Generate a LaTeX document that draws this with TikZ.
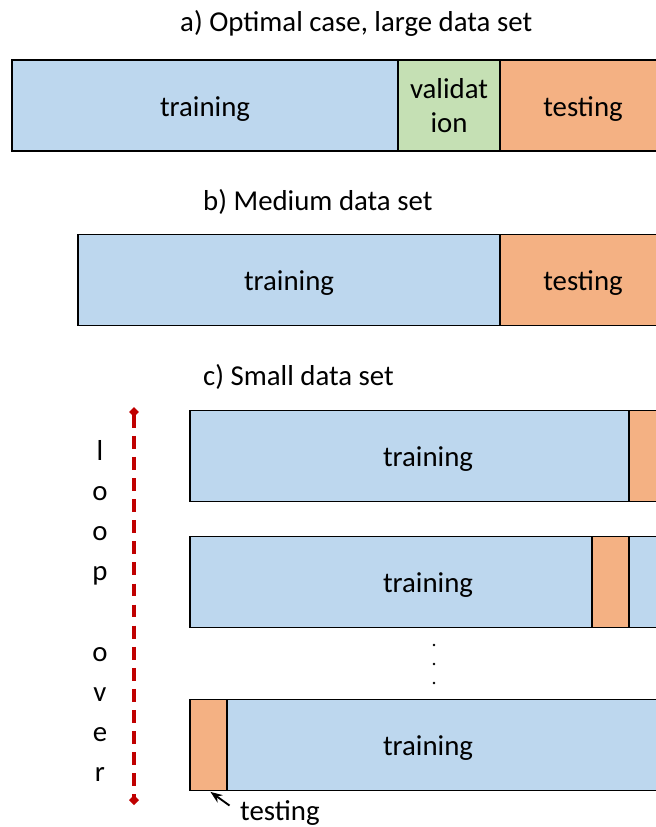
\documentclass[tikz,border=0pt]{standalone}
\usepackage{fontspec}
\setmainfont{Carlito}
\usetikzlibrary{positioning, arrows.meta}
\definecolor{trainblue}{RGB}{189,215,238}
\definecolor{validgreen}{RGB}{197,224,180}
\definecolor{testorange}{RGB}{244,177,131}
\definecolor{loopred}{RGB}{192,0,0}

\begin{document}
\begin{tikzpicture}[x=0.03cm, y=-0.03cm, >=Stealth, font=\fontsize{24.6}{29}\selectfont,
    seg/.style={draw, line width=1pt, minimum height=2.73cm, inner sep=0pt, outer sep=0pt, anchor=west},
    oneline/.style={text height=20pt, text depth=2pt},
    title/.style={anchor=base west, inner sep=0pt}]
    \clip (0,0) rectangle (656,827);

    % a) large data set
    \node[title] (atitle) at (180,31) {a) Optimal case, large data set};
    \node[seg, oneline, fill=trainblue, minimum width=11.58cm] (atrain) at (12,105.5) {training};
    \node[seg, fill=validgreen, minimum width=3.06cm, align=center, right=0pt of atrain] (avalid) {validat\\ion};
    \node[seg, oneline, fill=testorange, minimum width=4.98cm, right=0pt of avalid] (atest) {testing};

    % b) medium data set
    \node[title] (btitle) at (203,210) {b) Medium data set};
    \node[seg, oneline, fill=trainblue, minimum width=12.66cm] (btrain) at (78,280) {training};
    \node[seg, oneline, fill=testorange, minimum width=4.98cm, right=0pt of btrain] (btest) {testing};

    % c) small data set
    \node[title] (ctitle) at (203,385) {c) Small data set};
    \node[seg, oneline, fill=trainblue, minimum width=14.28cm] (ctrainA) at (190,456) {training};
    \node[seg, fill=testorange, minimum width=1.11cm, anchor=east] (ctestA) at (ctrainA.east) {};
    \node[seg, oneline, fill=trainblue, minimum width=14.28cm] (ctrainB) at (190,582) {training};
    \node[seg, fill=testorange, minimum width=1.11cm] (ctestB) at (592,582) {};
    \foreach \y in {645,664,683}
        \fill (434,\y) circle (1.4);
    \node[seg, oneline, fill=trainblue, minimum width=14.28cm] (ctrainC) at (190,745) {training};
    \node[seg, fill=testorange, minimum width=1.11cm] (ctestC) at (190,745) {};

    % loop over
    \coordinate (looptop) at (134,407);
    \coordinate (loopbot) at (134,805);
    \draw[loopred, line width=2.6pt, dash pattern=on 11pt off 7pt,
        {Diamond[length=8.5pt, width=8.5pt]}-{Diamond[length=8.5pt, width=8.5pt]}] (looptop) -- (loopbot);
    \node[align=center, font=\fontsize{24.6}{34.2}\selectfont, inner sep=0pt] (looplbl) at (100,611)
        {l\\o\\o\\p\\\mbox{}\\o\\v\\e\\r};

    % testing label
    \node[anchor=base west, inner sep=0pt] (tlbl) at (240,820.5) {testing};
    \draw[->, line width=1.6pt, shorten <=11pt, shorten >=2pt] (tlbl.west) -- (ctestC.south);
\end{tikzpicture}
\end{document}
